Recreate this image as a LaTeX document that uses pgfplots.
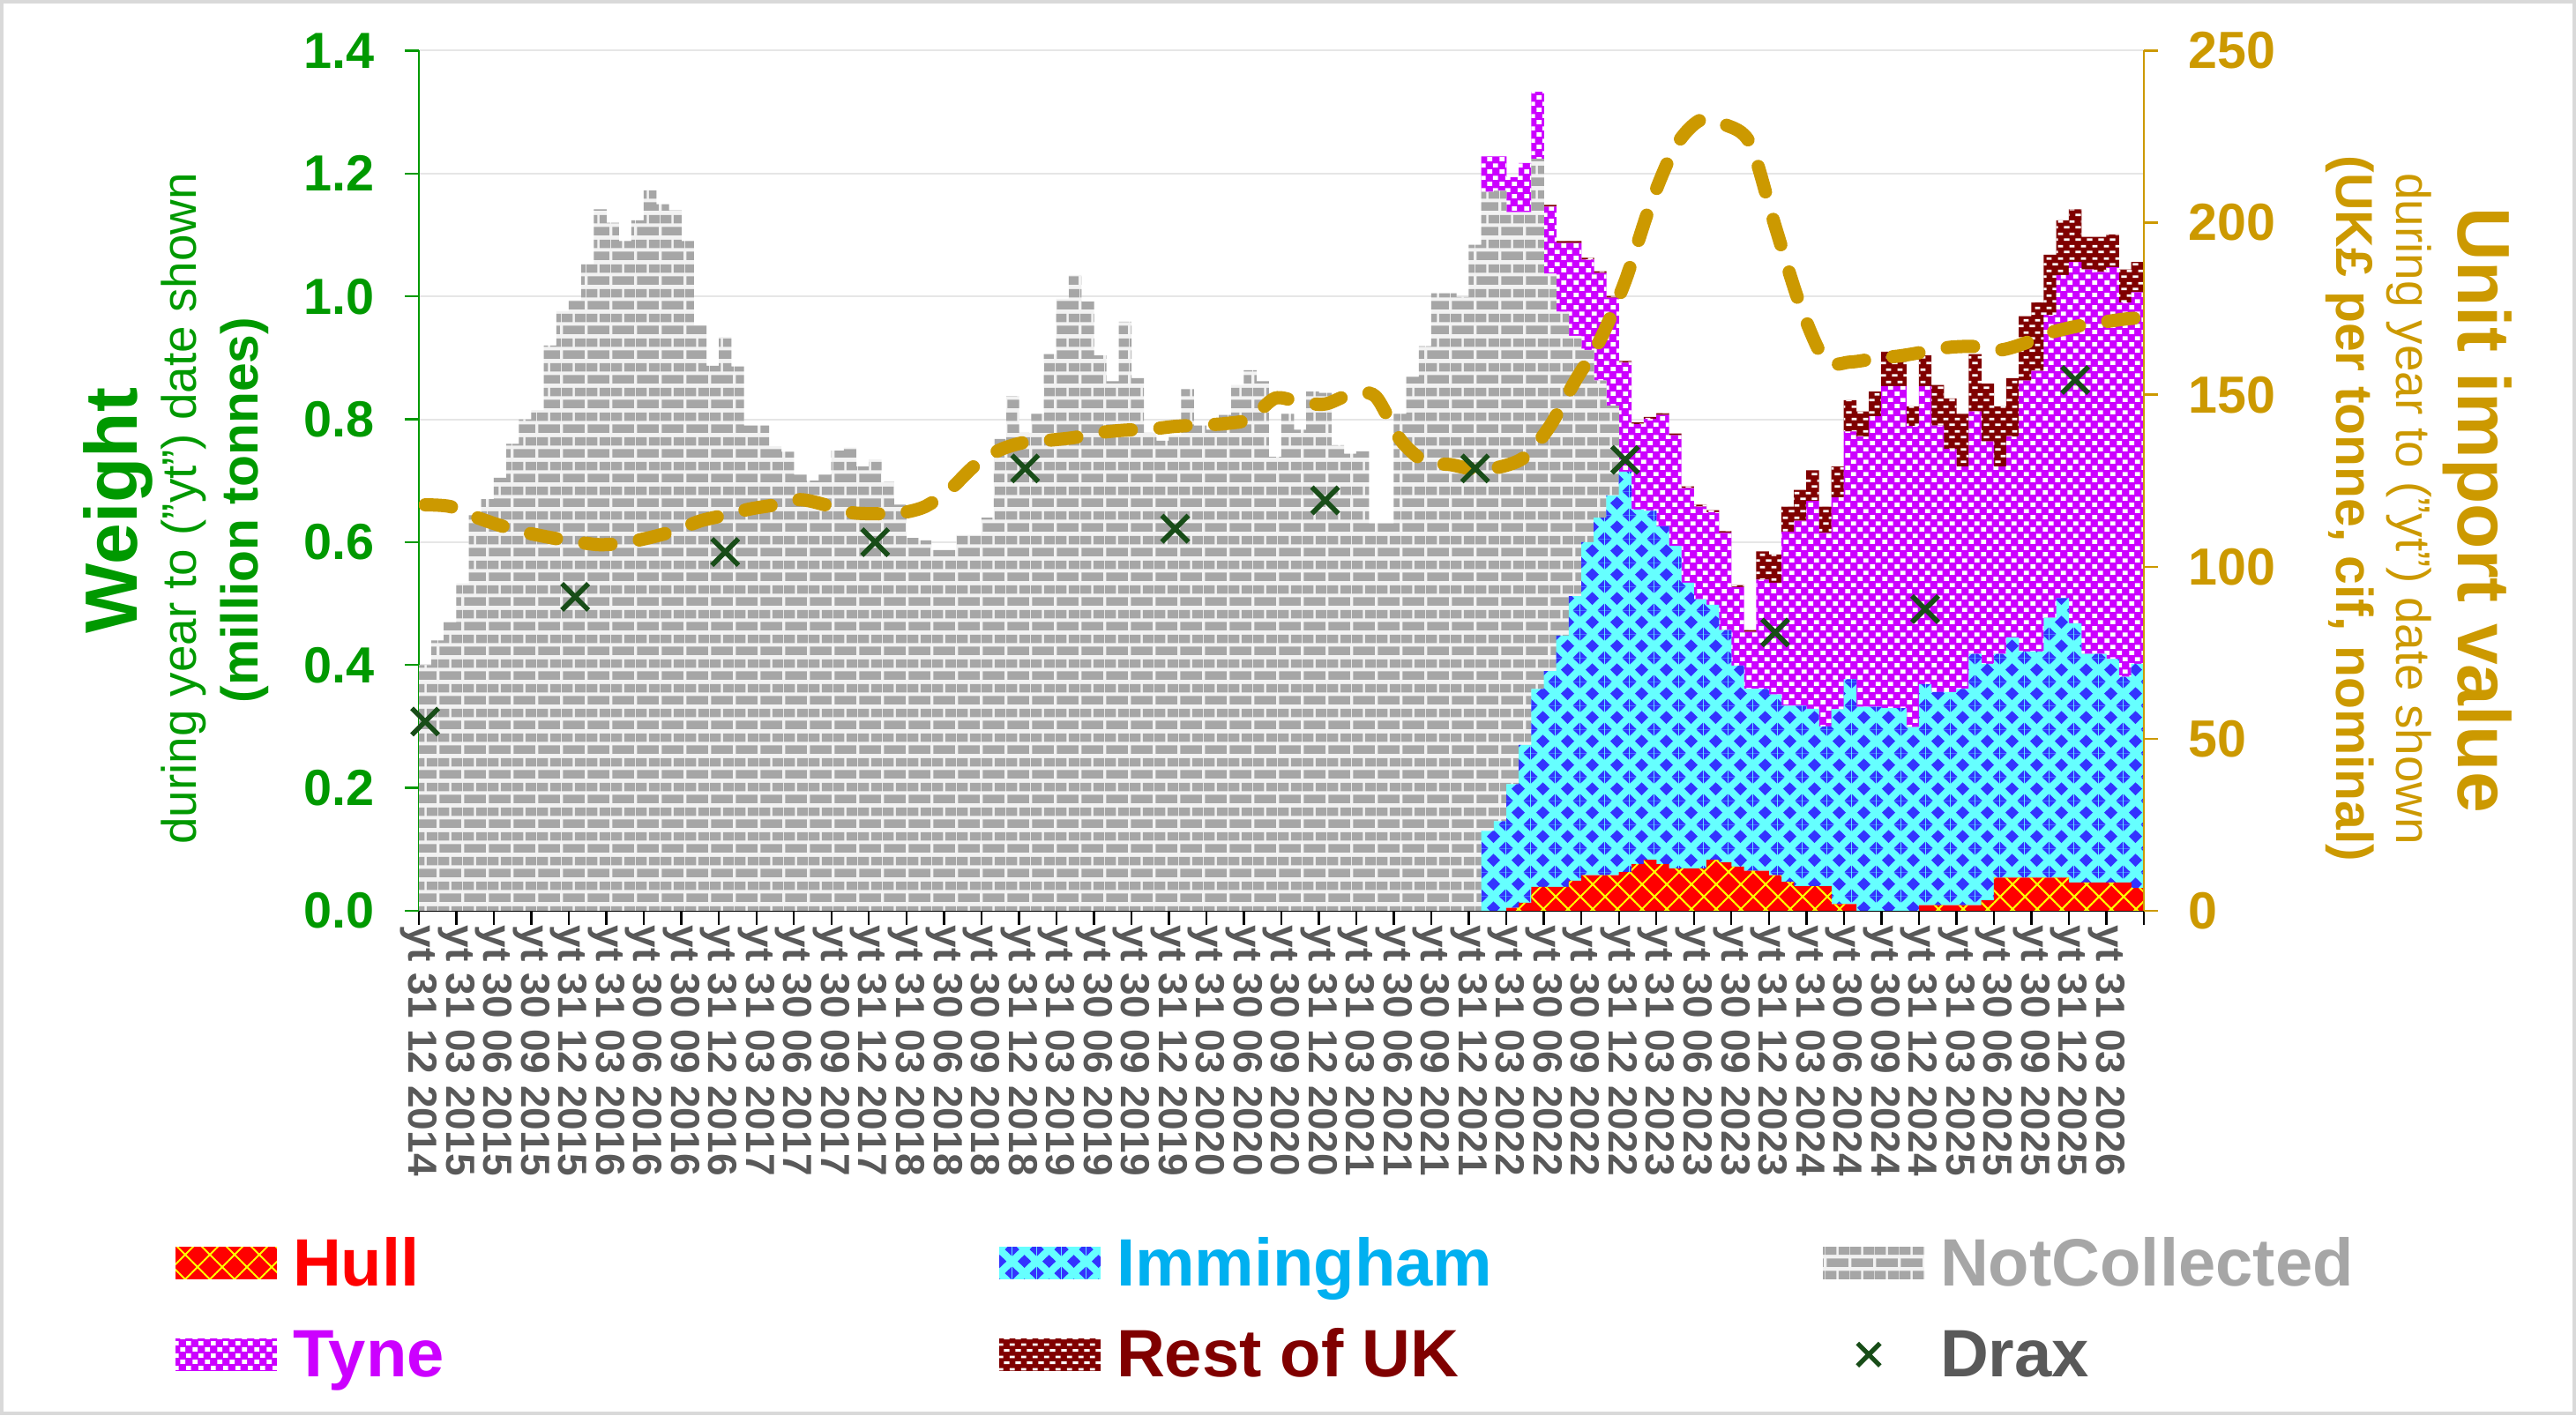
\documentclass[border=0pt]{standalone}
\usepackage{fontspec}
\setmainfont{Liberation Sans}
\usepackage{pgfplots}
\pgfplotsset{compat=1.18}
\usepackage{pgfplotstable}
\usetikzlibrary{patterns,patterns.meta}

\definecolor{gr}{HTML}{009900}
\definecolor{gold}{HTML}{CC9900}
\definecolor{tickgray}{HTML}{595959}
\definecolor{hullc}{HTML}{FF0000}
\definecolor{hullp}{HTML}{FFFF00}
\definecolor{immbg}{HTML}{66FFFF}
\definecolor{immfg}{HTML}{3333FF}
\definecolor{immtxt}{HTML}{00B0F0}
\definecolor{ncbg}{HTML}{F2F2F2}
\definecolor{ncfg}{HTML}{A6A6A6}
\definecolor{tynec}{HTML}{CC00FF}
\definecolor{restc}{HTML}{800000}
\definecolor{draxc}{HTML}{184D18}
\definecolor{framec}{HTML}{D9D9D9}
\definecolor{gridc}{HTML}{E6E6E6}

\pgfdeclarepatternformonly{imdiam}{\pgfqpoint{0pt}{0pt}}{\pgfqpoint{7pt}{6.7pt}}{\pgfqpoint{7pt}{6.7pt}}{%
 \pgfpathmoveto{\pgfqpoint{1.55pt}{3.35pt}}\pgfpathlineto{\pgfqpoint{3.5pt}{5.2pt}}\pgfpathlineto{\pgfqpoint{5.45pt}{3.35pt}}\pgfpathlineto{\pgfqpoint{3.5pt}{1.5pt}}\pgfpathclose
 \pgfpathmoveto{\pgfqpoint{0pt}{0pt}}\pgfpathlineto{\pgfqpoint{1.95pt}{0pt}}\pgfpathlineto{\pgfqpoint{0pt}{1.85pt}}\pgfpathclose
 \pgfpathmoveto{\pgfqpoint{7pt}{0pt}}\pgfpathlineto{\pgfqpoint{5.05pt}{0pt}}\pgfpathlineto{\pgfqpoint{7pt}{1.85pt}}\pgfpathclose
 \pgfpathmoveto{\pgfqpoint{0pt}{6.7pt}}\pgfpathlineto{\pgfqpoint{1.95pt}{6.7pt}}\pgfpathlineto{\pgfqpoint{0pt}{4.85pt}}\pgfpathclose
 \pgfpathmoveto{\pgfqpoint{7pt}{6.7pt}}\pgfpathlineto{\pgfqpoint{5.05pt}{6.7pt}}\pgfpathlineto{\pgfqpoint{7pt}{4.85pt}}\pgfpathclose
 \pgfusepath{fill}}
\pgfdeclarepatternformonly{ncbricks}{\pgfqpoint{0pt}{0pt}}{\pgfqpoint{6.9pt}{6.9pt}}{\pgfqpoint{6.9pt}{6.9pt}}{%
 \pgfpathrectangle{\pgfqpoint{0.34pt}{0.52pt}}{\pgfqpoint{6.22pt}{2.41pt}}
 \pgfpathrectangle{\pgfqpoint{0pt}{3.97pt}}{\pgfqpoint{3.11pt}{2.41pt}}
 \pgfpathrectangle{\pgfqpoint{3.79pt}{3.97pt}}{\pgfqpoint{3.11pt}{2.41pt}}
 \pgfusepath{fill}}
\pgfdeclarepatternformonly{tynep}{\pgfqpoint{0pt}{0pt}}{\pgfqpoint{3.4pt}{3.6pt}}{\pgfqpoint{3.4pt}{3.6pt}}{%
 \pgfpathrectangle{\pgfqpoint{0.1pt}{0.3pt}}{\pgfqpoint{1.45pt}{1.2pt}}
 \pgfpathrectangle{\pgfqpoint{1.8pt}{2.1pt}}{\pgfqpoint{1.45pt}{1.2pt}}
 \pgfusepath{fill}}
\pgfdeclarepatternformonly{restp}{\pgfqpoint{0pt}{0pt}}{\pgfqpoint{3.35pt}{3.5pt}}{\pgfqpoint{3.35pt}{3.5pt}}{%
 \pgfpathrectangle{\pgfqpoint{0.1pt}{0.5pt}}{\pgfqpoint{1.6pt}{0.75pt}}
 \pgfpathrectangle{\pgfqpoint{1.75pt}{2.25pt}}{\pgfqpoint{1.5pt}{0.75pt}}
 \pgfusepath{fill}}

\pgfplotsset{
 barleg/.style={legend image code/.code={\path[##1, draw=none] (0pt,-7.6pt) rectangle (28.75pt,1.6pt);}},
 draxleg/.style={legend image code/.code={\draw[##1] plot coordinates {(13pt,-3pt)};}},
}
\newcommand{\lgt}[2]{\rule[-6.25pt]{0pt}{26.5pt}\makebox[195.75pt][l]{\color{#1}#2}}

\pgfplotstableread{
x hull imm nc tyne rest
0.5 0 0 0.400 0 0
1.5 0 0 0.440 0 0
2.5 0 0 0.470 0 0
3.5 0 0 0.533 0 0
4.5 0 0 0.644 0 0
5.5 0 0 0.670 0 0
6.5 0 0 0.705 0 0
7.5 0 0 0.760 0 0
8.5 0 0 0.800 0 0
9.5 0 0 0.815 0 0
10.5 0 0 0.920 0 0
11.5 0 0 0.976 0 0
12.5 0 0 0.994 0 0
13.5 0 0 1.053 0 0
14.5 0 0 1.142 0 0
15.5 0 0 1.120 0 0
16.5 0 0 1.090 0 0
17.5 0 0 1.124 0 0
18.5 0 0 1.173 0 0
19.5 0 0 1.150 0 0
20.5 0 0 1.140 0 0
21.5 0 0 1.090 0 0
22.5 0 0 0.953 0 0
23.5 0 0 0.887 0 0
24.5 0 0 0.934 0 0
25.5 0 0 0.886 0 0
26.5 0 0 0.790 0 0
27.5 0 0 0.790 0 0
28.5 0 0 0.756 0 0
29.5 0 0 0.747 0 0
30.5 0 0 0.710 0 0
31.5 0 0 0.700 0 0
32.5 0 0 0.710 0 0
33.5 0 0 0.749 0 0
34.5 0 0 0.754 0 0
35.5 0 0 0.723 0 0
36.5 0 0 0.735 0 0
37.5 0 0 0.698 0 0
38.5 0 0 0.661 0 0
39.5 0 0 0.607 0 0
40.5 0 0 0.603 0 0
41.5 0 0 0.587 0 0
42.5 0 0 0.587 0 0
43.5 0 0 0.612 0 0
44.5 0 0 0.612 0 0
45.5 0 0 0.640 0 0
46.5 0 0 0.768 0 0
47.5 0 0 0.838 0 0
48.5 0 0 0.778 0 0
49.5 0 0 0.809 0 0
50.5 0 0 0.906 0 0
51.5 0 0 0.996 0 0
52.5 0 0 1.035 0 0
53.5 0 0 0.992 0 0
54.5 0 0 0.904 0 0
55.5 0 0 0.862 0 0
56.5 0 0 0.959 0 0
57.5 0 0 0.867 0 0
58.5 0 0 0.778 0 0
59.5 0 0 0.765 0 0
60.5 0 0 0.774 0 0
61.5 0 0 0.849 0 0
62.5 0 0 0.790 0 0
63.5 0 0 0.783 0 0
64.5 0 0 0.807 0 0
65.5 0 0 0.856 0 0
66.5 0 0 0.880 0 0
67.5 0 0 0.862 0 0
68.5 0 0 0.739 0 0
69.5 0 0 0.809 0 0
70.5 0 0 0.783 0 0
71.5 0 0 0.845 0 0
72.5 0 0 0.843 0 0
73.5 0 0 0.758 0 0
74.5 0 0 0.744 0 0
75.5 0 0 0.748 0 0
76.5 0 0 0.631 0 0
77.5 0 0 0.631 0 0
78.5 0 0 0.809 0 0
79.5 0 0 0.869 0 0
80.5 0 0 0.919 0 0
81.5 0 0 1.005 0 0
82.5 0 0 1.005 0 0
83.5 0 0 0.999 0 0
84.5 0 0 1.084 0 0
85.5 0 0.130 1.040 0.058 0
86.5 0 0.146 1.026 0.056 0
87.5 0.005 0.201 0.931 0.057 0
88.5 0.013 0.257 0.867 0.080 0
89.5 0.039 0.322 0.863 0.109 0
90.5 0.039 0.351 0.647 0.109 0.003
91.5 0.039 0.409 0.527 0.112 0.003
92.5 0.049 0.463 0.424 0.151 0.003
93.5 0.058 0.542 0.313 0.147 0.003
94.5 0.058 0.582 0.223 0.175 0.003
95.5 0.058 0.618 0.146 0.176 0.003
96.5 0.063 0.652 0 0.177 0.003
97.5 0.076 0.577 0 0.139 0.003
98.5 0.083 0.568 0 0.150 0.003
99.5 0.076 0.550 0 0.181 0.003
100.5 0.069 0.525 0 0.180 0.003
101.5 0.069 0.465 0 0.154 0.003
102.5 0.069 0.438 0 0.151 0.003
103.5 0.083 0.415 0 0.151 0.003
104.5 0.079 0.378 0 0.158 0.003
105.5 0.072 0.327 0 0.128 0.003
106.5 0.065 0.296 0 0.093 0.003
107.5 0.065 0.296 0 0.178 0.046
108.5 0.058 0.294 0 0.182 0.046
109.5 0.047 0.287 0 0.283 0.041
110.5 0.040 0.294 0 0.301 0.050
111.5 0.040 0.289 0 0.338 0.050
112.5 0.040 0.260 0 0.315 0.043
113.5 0.011 0.317 0 0.345 0.050
114.5 0.011 0.366 0 0.403 0.051
115.5 0 0.332 0 0.440 0.041
116.5 0 0.332 0 0.473 0.040
117.5 0 0.330 0 0.524 0.056
118.5 0 0.330 0 0.524 0.056
119.5 0 0.299 0 0.490 0.032
120.5 0.009 0.360 0 0.485 0.050
121.5 0.009 0.347 0 0.434 0.066
122.5 0.009 0.347 0 0.396 0.082
123.5 0.009 0.352 0 0.362 0.086
124.5 0.009 0.409 0 0.395 0.093
125.5 0.017 0.385 0 0.362 0.094
126.5 0.054 0.364 0 0.305 0.098
127.5 0.054 0.391 0 0.327 0.095
128.5 0.054 0.368 0 0.441 0.105
129.5 0.054 0.368 0 0.457 0.111
130.5 0.054 0.423 0 0.493 0.098
131.5 0.054 0.455 0 0.526 0.089
132.5 0.046 0.422 0 0.588 0.086
133.5 0.046 0.372 0 0.626 0.053
134.5 0.046 0.372 0 0.622 0.057
135.5 0.046 0.364 0 0.638 0.053
136.5 0.046 0.335 0 0.609 0.054
137.5 0.037 0.365 0 0.605 0.049
}\ports

\pgfplotstableread{
x price
0.5 118
2.5 117.5
4.5 114.5
6.5 112
8.5 110
10.5 108.5
12.5 107.3
14.5 106.4
16.5 107
18.5 108.5
20.5 110.5
22.5 113.3
24.5 115
26.5 116.8
28.5 118
30.5 119.5
32.5 118
34.5 115.8
36.5 115.4
38.5 115.6
40.5 117.5
42.5 122.5
44.5 129.5
46.5 134
48.5 136.2
50.5 136.8
52.5 137.6
54.5 139
56.5 139.7
58.5 140
60.5 140.8
62.5 141.2
64.5 141.6
66.5 143
68.5 149
70.5 147.8
72.5 147.3
74.5 150
76.5 149.6
78.5 137
80.5 130.5
82.5 129.7
84.5 128.3
86.5 129
88.5 132
90.5 141
92.5 154
94.5 166
96.5 183
98.5 205
100.5 222
102.5 229.8
104.5 228.5
106.5 223
108.5 199
110.5 176
112.5 160
114.5 159.5
116.5 160.5
118.5 161.3
120.5 162.5
122.5 163.8
124.5 164
126.5 163
128.5 165
130.5 168
132.5 169.8
134.5 171
136.5 172
137.5 172.3
}\price

\pgfplotstableread{
x drax
0.5 0.308
12.5 0.511
24.5 0.584
36.5 0.600
48.5 0.720
60.5 0.622
72.5 0.668
84.5 0.720
96.5 0.734
108.5 0.453
120.5 0.491
132.5 0.864
}\draxdata

\begin{document}
\begin{tikzpicture}
\useasboundingbox (0,0) rectangle (730.25pt,401.25pt);
\draw[framec, line width=1pt] (0.5pt,0.5pt) rectangle (729.75pt,400.75pt);

\begin{axis}[
 at={(118.75pt,143pt)}, anchor=south west,
 scale only axis, width=489pt, height=243.875pt,
 xmin=0, xmax=138, ymin=0, ymax=1.4, enlargelimits=false,
 ybar stacked, bar width=1.02,
 axis lines*=left,
 x axis line style={black, line width=0.75pt, -},
 y axis line style={gr, line width=0.6pt, -},
 tick align=outside, major tick length=4pt,
 xtick={0,3,...,138},
 xticklabels={yt 31 12 2014, yt 31 03 2015, yt 30 06 2015, yt 30 09 2015, yt 31 12 2015, yt 31 03 2016, yt 30 06 2016, yt 30 09 2016, yt 31 12 2016, yt 31 03 2017, yt 30 06 2017, yt 30 09 2017, yt 31 12 2017, yt 31 03 2018, yt 30 06 2018, yt 30 09 2018, yt 31 12 2018, yt 31 03 2019, yt 30 06 2019, yt 30 09 2019, yt 31 12 2019, yt 31 03 2020, yt 30 06 2020, yt 30 09 2020, yt 31 12 2020, yt 31 03 2021, yt 30 06 2021, yt 30 09 2021, yt 31 12 2021, yt 31 03 2022, yt 30 06 2022, yt 30 09 2022, yt 31 12 2022, yt 31 03 2023, yt 30 06 2023, yt 30 09 2023, yt 31 12 2023, yt 31 03 2024, yt 30 06 2024, yt 30 09 2024, yt 31 12 2024, yt 31 03 2025, yt 30 06 2025, yt 30 09 2025, yt 31 12 2025, yt 31 03 2026, {}},
 xtick style={black, line width=0.6pt},
 xticklabel style={rotate=-90, anchor=west, inner sep=0pt, font=\fontsize{11.5}{13}\selectfont\bfseries, text=tickgray},
 ytick={0,0.2,0.4,0.6,0.8,1.0,1.2,1.4},
 ytick style={gr, line width=0.6pt},
 ymajorgrids, major grid style={gridc, line width=0.5pt},
 /pgf/number format/assume math mode=true,
 yticklabel style={xshift=-5pt, font=\fontsize{14.4}{16}\selectfont\bfseries, text=gr, /pgf/number format/fixed, /pgf/number format/fixed zerofill, /pgf/number format/precision=1},
 legend columns=3,
 legend cell align=left,
 legend style={at={(axis description cs:-0.1411,-0.35264)}, anchor=north west, draw=none, fill=none, inner sep=0pt, outer sep=0pt, column sep=4.5pt, row sep=4.2pt, font=\fontsize{19}{22}\selectfont\bfseries, nodes={inner sep=0pt, outer sep=0pt}},
]
\addplot[barleg, fill=hullc, draw=none, postaction={pattern={Lines[angle=45,distance=4.95pt,line width=0.5pt]}, pattern color=hullp}, postaction={pattern={Lines[angle=-45,distance=4.95pt,line width=0.5pt]}, pattern color=hullp}] table[x=x, y=hull] {\ports};
\addlegendentry{\lgt{hullc}{Hull}}
\addplot[barleg, fill=immbg, draw=none, postaction={pattern=imdiam, pattern color=immfg}] table[x=x, y=imm] {\ports};
\addlegendentry{\lgt{immtxt}{Immingham}}
\addplot[barleg, fill=ncbg, draw=none, postaction={pattern=ncbricks, pattern color=ncfg}] table[x=x, y=nc] {\ports};
\addlegendentry{\lgt{ncfg}{NotCollected}}
\addplot[barleg, fill=tynec, draw=none, postaction={pattern=tynep, pattern color=white}] table[x=x, y=tyne] {\ports};
\addlegendentry{\lgt{tynec}{Tyne}}
\addplot[barleg, fill=restc, draw=none, postaction={pattern=restp, pattern color=white}] table[x=x, y=rest] {\ports};
\addlegendentry{\lgt{restc}{Rest of UK}}
\addlegendimage{draxleg, only marks, mark=x, mark size=4.5pt, draxc, mark options={line width=1.3pt, solid}}
\addlegendentry{\lgt{tickgray}{Drax}}
\end{axis}

\begin{axis}[
 at={(118.75pt,143pt)}, anchor=south west,
 scale only axis, width=489pt, height=243.875pt,
 xmin=0, xmax=138, ymin=0, ymax=250, enlargelimits=false,
 axis x line=none, axis y line*=right,
 y axis line style={gold, line width=0.6pt, -},
 tick align=outside, major tick length=4pt,
 ytick={0,50,100,150,200,250},
 ytick style={gold, line width=0.6pt},
 /pgf/number format/assume math mode=true,
 yticklabel style={xshift=5pt, font=\fontsize{14.8}{17}\selectfont\bfseries, text=gold},
]
\addplot[gold, line width=3.75pt, line cap=round, dash pattern=on 7.5pt off 8.1pt, smooth, tension=0.5, no markers] table[x=x, y=price] {\price};
\end{axis}

\begin{axis}[
 at={(118.75pt,143pt)}, anchor=south west,
 scale only axis, width=489pt, height=243.875pt,
 xmin=0, xmax=138, ymin=0, ymax=1.4, enlargelimits=false,
 hide axis,
]
\addplot[only marks, mark=x, mark size=5.3pt, draxc, mark options={line width=1.4pt}] table[x=x, y=drax] {\draxdata};
\end{axis}

\node[rotate=90, text=gr, font=\fontsize{21}{25}\selectfont\bfseries] at (33.4pt,256.5pt) {Weight};
\node[rotate=90, text=gr, font=\fontsize{13.7}{16}\selectfont] at (52.2pt,257pt) {during year to ("yt") date shown};
\node[rotate=90, text=gr, font=\fontsize{14.7}{17}\selectfont\bfseries] at (69.2pt,256.6pt) {(million tonnes)};
\node[rotate=-90, text=gold, font=\fontsize{21}{25}\selectfont\bfseries] at (702.25pt,256.5pt) {Unit import value};
\node[rotate=-90, text=gold, font=\fontsize{13.7}{16}\selectfont] at (683pt,257pt) {during year to ("yt") date shown};
\node[rotate=-90, text=gold, font=\fontsize{14.7}{17}\selectfont\bfseries] at (666.25pt,257pt) {(UK£ per tonne, cif, nominal)};
\end{tikzpicture}
\end{document}
